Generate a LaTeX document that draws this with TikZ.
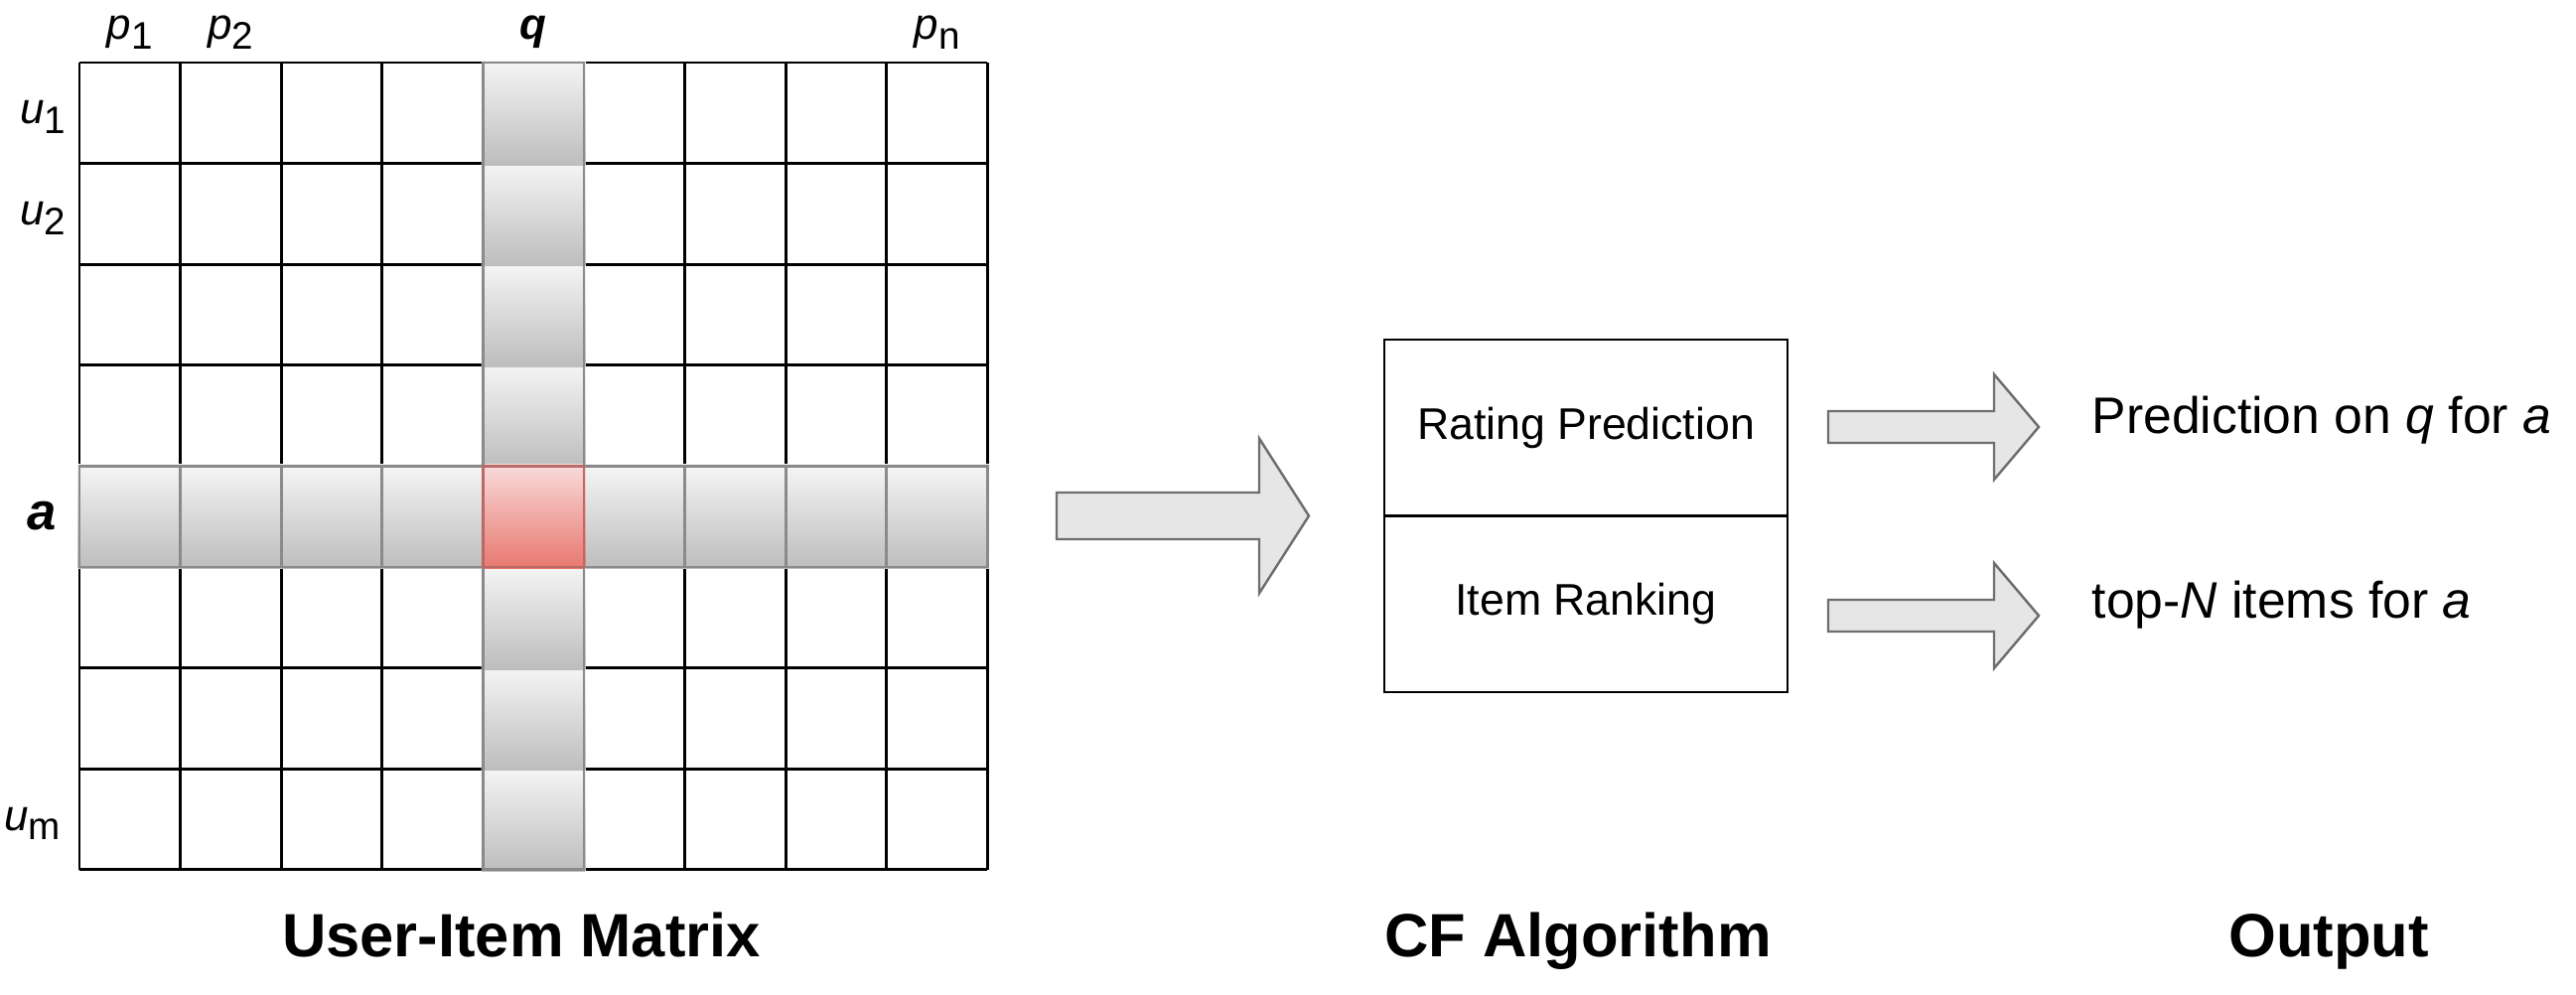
\documentclass[tikz,border=0pt]{standalone}
\usepackage{fontspec}
\setmainfont{Liberation Sans}
\usetikzlibrary{positioning}

\definecolor{hltop}{HTML}{F5F5F5}
\definecolor{hlbot}{HTML}{BEBDBE}
\definecolor{redtop}{HTML}{F9DADA}
\definecolor{redbot}{HTML}{E8786F}
\definecolor{hlline}{HTML}{8A8A8A}
\definecolor{redline}{HTML}{B86A66}
\definecolor{arrowfill}{HTML}{E6E6E6}
\definecolor{arrowline}{HTML}{6E6E6E}

\tikzset{
  gridline/.style={line width=0.8pt},
  hlcell/.style={top color=hltop, bottom color=hlbot},
  redcell/.style={top color=redtop, bottom color=redbot},
  algobox/.style={draw, line width=0.8pt, outer sep=0pt, inner sep=0pt,
    minimum width=4.06cm, minimum height=1.775cm,
    font=\fontsize{12.7}{15}\selectfont},
  blockarrow/.style={fill=arrowfill, draw=arrowline, line width=0.7pt},
  title/.style={font=\fontsize{17.5}{21}\selectfont\bfseries, anchor=base, inner sep=0pt},
  outtext/.style={font=\fontsize{14.7}{17}\selectfont, anchor=base west, inner sep=0pt},
  axislabel/.style={font=\fontsize{12.5}{15}\selectfont, inner sep=0pt}
}

% label with a lowered index
\newcommand{\idxlabel}[2]{\textit{#1}\raisebox{-0.22em}{\fontsize{11}{13}\selectfont #2}}
% block arrow: tail x, head base x, tip x, mid y, shaft half, head half
\newcommand{\blockarrow}[6]{%
  \draw[blockarrow] (#1,#4-#5) -- (#2,#4-#5) -- (#2,#4-#6) -- (#3,#4)
    -- (#2,#4+#6) -- (#2,#4+#5) -- (#1,#4+#5) -- cycle;}

\begin{document}
\begin{tikzpicture}
\useasboundingbox (0,0) rectangle (25.94,10.02);

% user-item matrix
\begin{scope}[shift={(0.8,1.262)}, scale=1.016]
\draw[gridline] (0,0) grid (9,8);
\foreach \x in {0,...,8}
  \shade[hlcell] (\x-0.014,2.986) rectangle ++(1.028,1.028);
\foreach \y in {0,1,2,4,5,6,7}
  \shade[hlcell] (3.986,\y-0.014) rectangle ++(1.028,1.028);
\shade[redcell] (3.986,2.986) rectangle ++(1.028,1.028);
\draw[gridline, draw=hlline] (4,0) rectangle (5,8);
\draw[gridline, draw=hlline] (0,3) rectangle (9,4);
\foreach \x in {1,2,3,6,7,8}
  \draw[gridline, draw=hlline] (\x,3) -- (\x,4);
\draw[gridline, draw=redline] (4,3) rectangle (5,4);

\node[axislabel, anchor=base] (p1) at (0.5,8.23) {\idxlabel{p}{1}};
\node[axislabel, anchor=base] (p2) at (1.5,8.23) {\idxlabel{p}{2}};
\node[axislabel, anchor=base] (q) at (4.5,8.23) {\textbf{\textit{q}}};
\node[axislabel, anchor=base] (pn) at (8.5,8.23) {\idxlabel{p}{n}};
\node[axislabel, anchor=base east] (u1) at (-0.13,7.39) {\idxlabel{u}{1}};
\node[axislabel, anchor=base east] (u2) at (-0.13,6.39) {\idxlabel{u}{2}};
\node[axislabel, anchor=base east, font=\fontsize{15}{18}\selectfont]
  (a) at (-0.22,3.37) {\textbf{\textit{a}}};
\node[axislabel, anchor=base east] (um) at (-0.18,0.39) {\idxlabel{u}{m}};
\end{scope}

% CF algorithm
\node[algobox] (rate) at (15.97,5.7125) {Rating Prediction};
\node[algobox, below=0pt of rate] (rank) {Item Ranking};

% arrows
\blockarrow{10.64}{12.68}{13.18}{4.825}{0.235}{0.78}
\blockarrow{18.41}{20.08}{20.53}{5.72}{0.16}{0.53}
\blockarrow{18.41}{20.08}{20.53}{3.82}{0.16}{0.53}

% output
\node[outtext] (predout) at (21.06,5.65) {Prediction on \textit{q} for \textit{a}};
\node[outtext] (topout) at (21.06,3.79) {top-\textit{N} items for \textit{a}};

% titles
\node[title] (mattitle) at (5.25,0.38) {User-Item Matrix};
\node[title] (algotitle) at (15.89,0.38) {CF Algorithm};
\node[title] (outtitle) at (23.45,0.38) {Output};
\end{tikzpicture}
\end{document}
